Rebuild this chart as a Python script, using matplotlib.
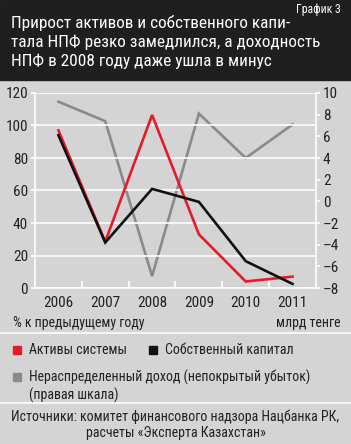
import matplotlib
matplotlib.use("Agg")
import matplotlib.pyplot as plt
from matplotlib import font_manager as fm
from matplotlib.ticker import FixedLocator

names = {f.name for f in fm.fontManager.ttflist}
cands = ['Liberation Sans Narrow', 'DejaVu Sans Condensed', 'Roboto Condensed', 'Open Sans Condensed', 'Roboto', 'DejaVu Sans']
FONT = next(c for c in cands if c in names)
plt.rcParams['font.family'] = [FONT, 'DejaVu Sans']

years = ['2006', '2007', '2008', '2009', '2010', '2011']
assets = [97, 28.5, 106.5, 33, 4, 7]
capital = [94, 28, 61, 53, 16.5, 2.5]
retained = [9.2, 7.4, -6.9, 8.1, 4.0, 7.1]

title = "Прирост активов и собственного капи-\nтала НПФ резко замедлился, а доходность\nНПФ в 2008 году даже ушла в минус"
BG = '#d4d4d4'
TXT = '#222222'

W, H = 351, 444
fig = plt.figure(figsize=(W/100, H/100), dpi=100, facecolor=BG)

def fx(px): return px / W
def fy(py): return 1 - py / H

# title band
fig.patches.append(plt.Rectangle((0, fy(80)), 1, 80/H, transform=fig.transFigure, color='#1f1f1f', zorder=0))
fig.text(fx(11), fy(42), title, color='white', fontsize=12.4, va='center', ha='left', linespacing=1.3)
fig.text(fx(341), fy(9), "График 3", color='white', fontsize=8.5, va='center', ha='right')

ax = fig.add_axes([fx(35), fy(288), fx(316) - fx(35), (288 - 93)/H])
ax.set_facecolor(BG)
x = list(range(len(years)))
ax.set_xlim(-0.5, len(years) - 0.5)
ax.set_ylim(0, 120)
ax.set_yticks(range(0, 121, 20))
ax.yaxis.grid(True, color='white', lw=1.2)
ax.set_axisbelow(True)
for s in ['top', 'right']:
    ax.spines[s].set_visible(False)
for s in ['left', 'bottom']:
    ax.spines[s].set_color('white')
    ax.spines[s].set_linewidth(1.2)
ax.tick_params(axis='y', colors='white', length=3, width=1.2, labelcolor=TXT, labelsize=11, pad=2)
ax.set_xticks(x)
ax.set_xticklabels(years)
ax.tick_params(axis='x', length=0, labelcolor=TXT, labelsize=11, pad=6)
ax.xaxis.set_minor_locator(FixedLocator([0.5, 1.5, 2.5, 3.5, 4.5]))
ax.tick_params(axis='x', which='minor', direction='in', colors='white', length=5, width=1.2)

ax2 = ax.twinx()
ax2.set_ylim(-8, 10)
ax2.set_yticks(range(-8, 11, 2))
ax2.set_yticklabels([str(v).replace('-', '–') for v in range(-8, 11, 2)])
for s in ['top', 'left', 'bottom']:
    ax2.spines[s].set_visible(False)
ax2.spines['right'].set_color('white')
ax2.spines['right'].set_linewidth(1.2)
ax2.tick_params(axis='y', colors='white', length=3, width=1.2, labelcolor=TXT, labelsize=11, pad=2)

ax2.plot(x, retained, color='#8a8a8a', lw=1.9, zorder=2, solid_joinstyle='miter')
ax.set_zorder(ax2.get_zorder() + 1)
ax.patch.set_visible(False)
ax2.patch.set_facecolor(BG)
ax.plot(x, assets, color='#e31b2b', lw=1.9, zorder=3, solid_joinstyle='miter')
ax.plot(x, capital, color='#111111', lw=1.9, zorder=4, solid_joinstyle='miter')

fs = 10
fig.text(fx(13), fy(323), "% к предыдущему году", color=TXT, fontsize=fs, va='center', ha='left')
fig.text(fx(340), fy(323), "млрд тенге", color=TXT, fontsize=fs, va='center', ha='right')

fig.add_artist(plt.Line2D([0, 1], [fy(333), fy(333)], color='white', lw=1.2))
fig.add_artist(plt.Line2D([0, 1], [fy(403), fy(403)], color='white', lw=1.2))

def legend_item(px, py, color, text):
    fig.patches.append(plt.Rectangle((fx(px), fy(py + 4)), 8/W, 8/H, transform=fig.transFigure, color=color))
    fig.text(fx(px + 16), fy(py), text, color=TXT, fontsize=fs, va='center', ha='left')

legend_item(13, 350, '#e31b2b', "Активы системы")
legend_item(149, 350, '#111111', "Собственный капитал")
legend_item(13, 377, '#8a8a8a', "Нераспределенный доход (непокрытый убыток)")
fig.text(fx(29), fy(395), "(правая шкала)", color=TXT, fontsize=fs, va='center', ha='left')

fig.text(0.5, fy(425), "Источники: комитет финансового надзора Нацбанка РК,\nрасчеты «Эксперта Казахстан»",
         color=TXT, fontsize=fs, va='center', ha='center', linespacing=1.15)

fig.savefig('out.png', dpi=100, facecolor=BG)
